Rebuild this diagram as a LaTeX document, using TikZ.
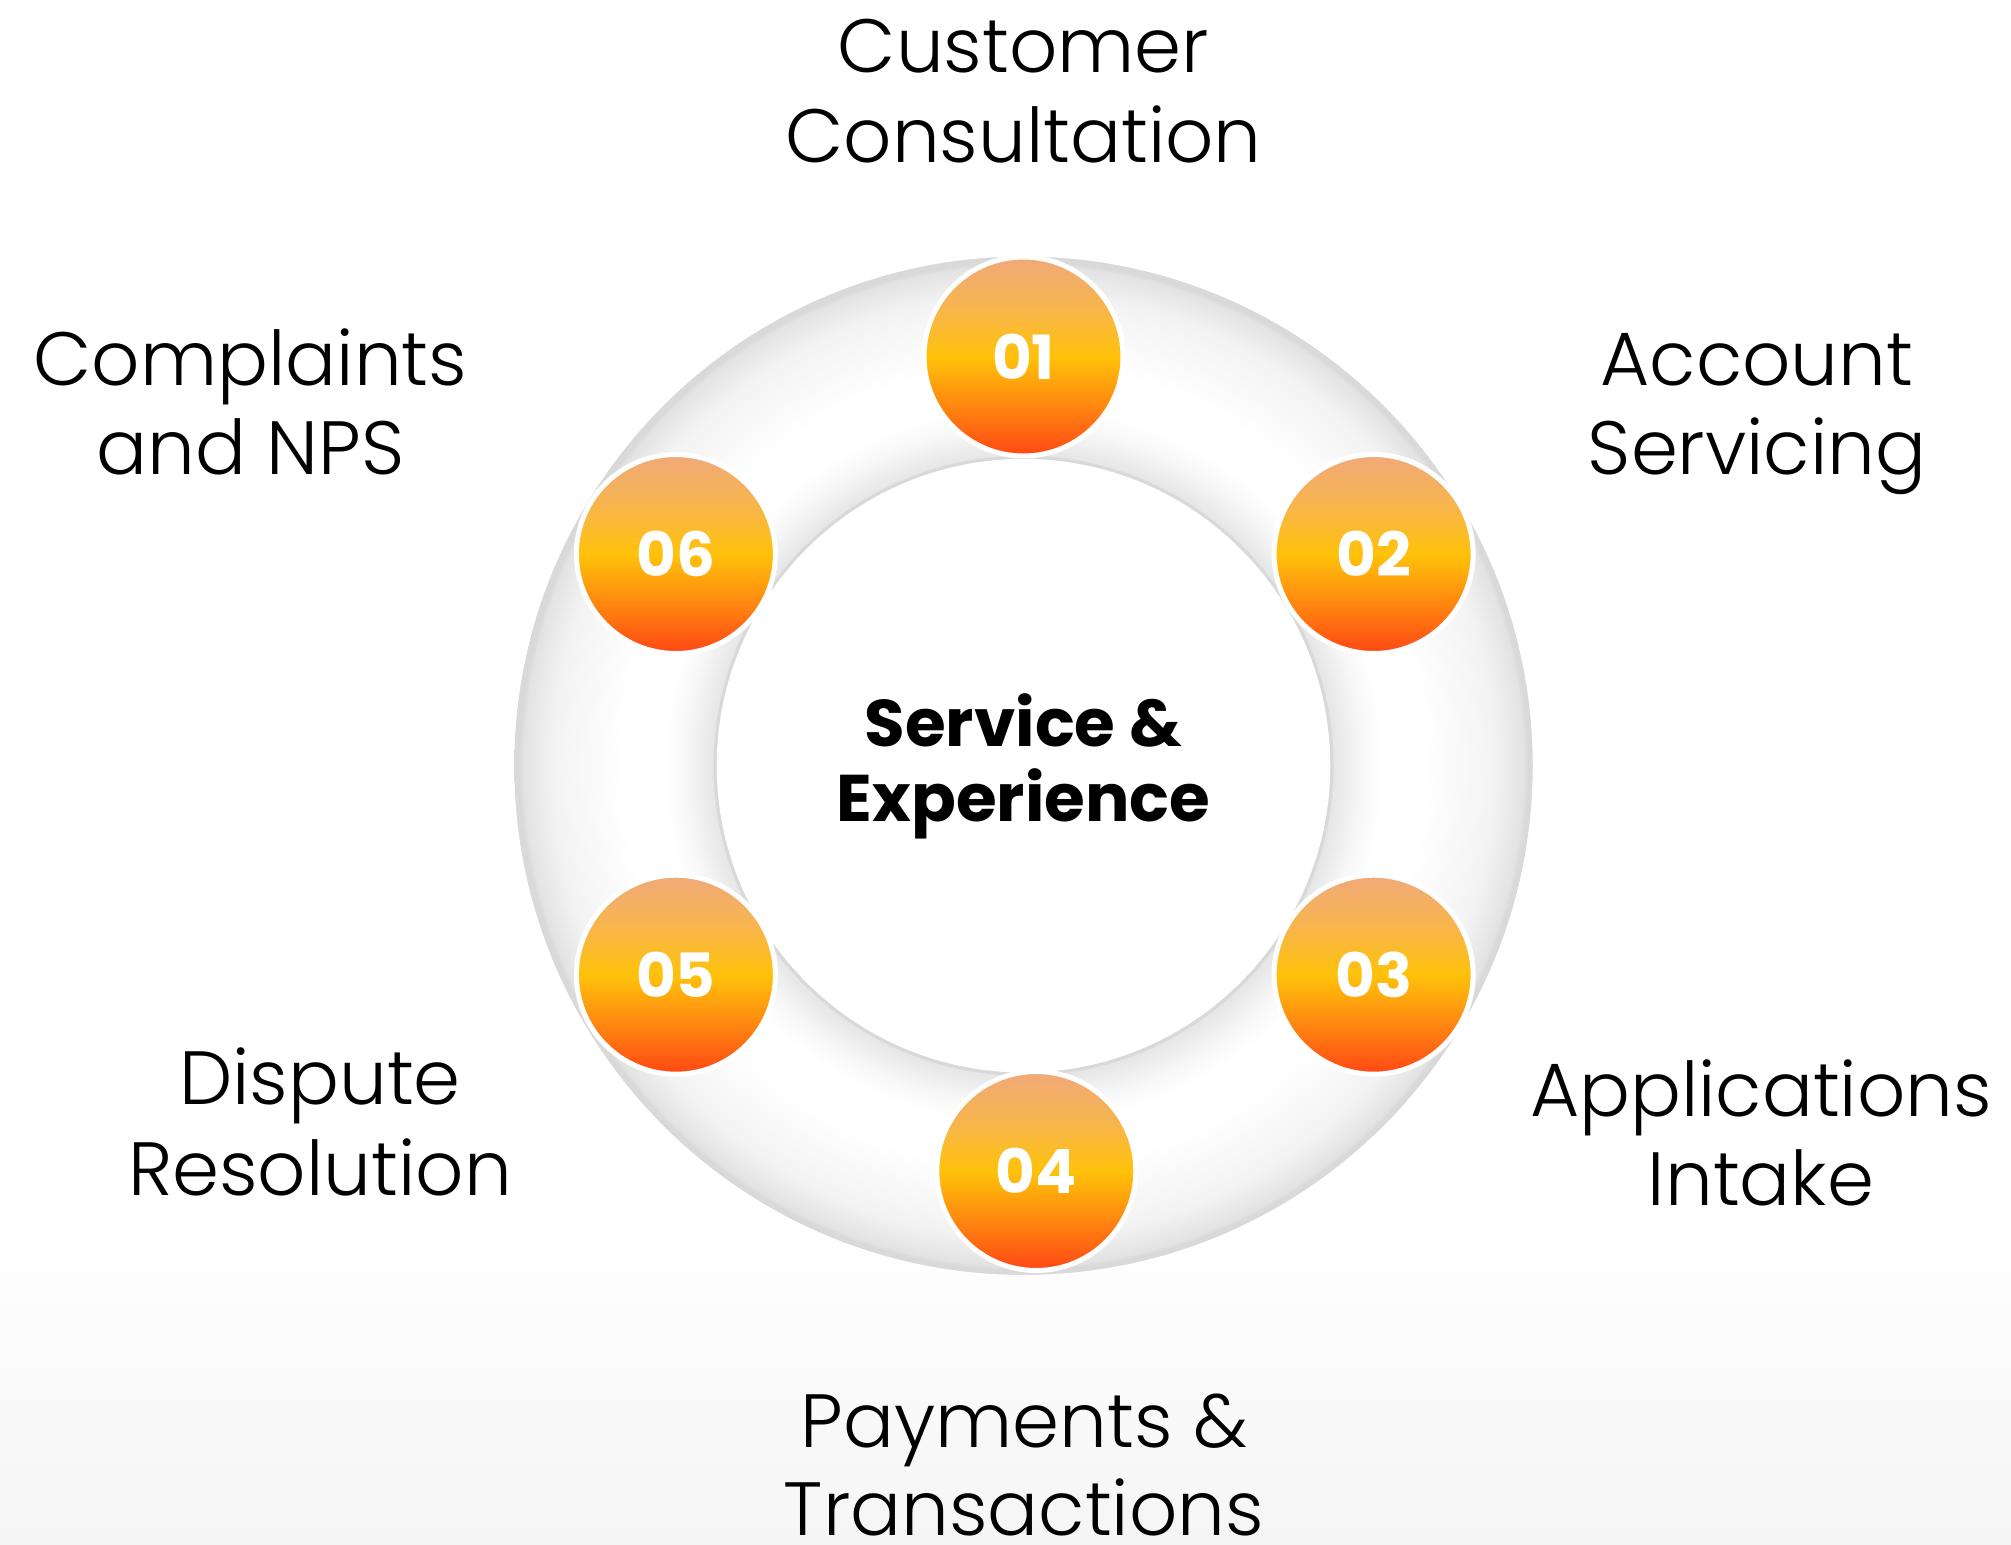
\documentclass[tikz,border=0pt]{standalone}
\usepackage{fontspec}
\setmainfont{Poppins}[UprightFont={* Light}, BoldFont={* Bold}]

% palette
\definecolor{ringline}{HTML}{D9D9D9}
\definecolor{ringinner}{HTML}{E6E6E6}
\definecolor{ringsoft}{HTML}{F8F8F8}
\definecolor{ringmid}{HTML}{F3F3F3}
\definecolor{ringouter}{HTML}{E3E3E3}
\definecolor{bubblebot}{HTML}{FF4614}
\definecolor{bubblelow}{HTML}{FF8410}
\definecolor{bubblemid}{HTML}{FFC20A}
\definecolor{bubblehigh}{HTML}{F7B54C}
\definecolor{bubbletop}{HTML}{F0A97A}
\definecolor{bgbottom}{HTML}{F5F5F5}

% soft bands across the ring
\pgfdeclareradialshading{ringshade}{\pgfpointorigin}{%
  color(0bp)=(ringline); color(15.08bp)=(ringline); color(15.23bp)=(ringinner);
  color(16.7bp)=(ringsoft); color(17.7bp)=(white); color(19.65bp)=(white);
  color(23.1bp)=(ringmid); color(24.56bp)=(ringouter); color(24.76bp)=(ringline);
  color(50bp)=(ringline)}

% peach -> amber -> red-orange, top to bottom
\pgfdeclareverticalshading{bubbleshade}{100bp}{%
  color(0bp)=(bubblebot); color(25bp)=(bubblebot); color(37bp)=(bubblelow);
  color(50bp)=(bubblemid); color(62bp)=(bubblehigh); color(75bp)=(bubbletop);
  color(100bp)=(bubbletop)}

\begin{document}
\begin{tikzpicture}[x=1pt,y=-1pt,
  bubble/.style={circle, inner sep=0pt, outer sep=0pt, minimum size=199pt,
    shade, shading=bubbleshade, draw=white, line width=5pt, text=white,
    font=\fontsize{61}{70}\selectfont\bfseries},
  lbl/.style={anchor=base, inner sep=0pt, text=black,
    font=\fontsize{75.5}{90}\selectfont},
  hubtext/.style={anchor=base, inner sep=0pt, text=black,
    font=\fontsize{66}{80}\selectfont\bfseries}]

  % page and background fade
  \useasboundingbox (0,0) rectangle (2011,1545);
  \fill[white] (0,0) rectangle (2011,1545);
  \shade[top color=white, bottom color=bgbottom] (0,1225) rectangle (2011,1545);

  % ring
  \coordinate (hub) at (1023.5,765.7);
  \shade[shading=ringshade, even odd rule]
    (hub) circle[radius=509pt] (hub) circle[radius=307pt];
  \draw[ringline, line width=3pt] (hub) circle[radius=507.5pt];
  \draw[ringline, line width=3pt] (hub) circle[radius=308.5pt];

  % centre title
  \node[hubtext] (title1) at (1023.5,746.5) {Service \&};
  \node[hubtext] (title2) at (1023.5,821) {Experience};

  % numbered bubbles
  \node[bubble] (s1) at (1023.5,356.5) {01};
  \node[bubble] (s2) at (1373.6,554) {02};
  \node[bubble] (s3) at (1373.6,974.7) {03};
  \node[bubble] (s4) at (1036.3,1171) {04};
  \node[bubble] (s5) at (675.9,974.7) {05};
  \node[bubble] (s6) at (675.9,554) {06};

  % step labels
  \node[lbl] (l1a) at (1023.5,72) {Customer};
  \node[lbl] (l1b) at (1023.5,162) {Consultation};
  \node[lbl] (l2a) at (1757,385) {Account};
  \node[lbl] (l2b) at (1757,474.5) {Servicing};
  \node[lbl] (l3a) at (1761,1116) {Applications};
  \node[lbl] (l3b) at (1761,1205.5) {Intake};
  \node[lbl] (l4a) at (1024,1447) {Payments \&};
  \node[lbl] (l4b) at (1024,1535) {Transactions};
  \node[lbl] (l5a) at (320,1104) {Dispute};
  \node[lbl] (l5b) at (320,1195) {Resolution};
  \node[lbl] (l6a) at (250.5,385) {Complaints};
  \node[lbl] (l6b) at (250.5,474.5) {and NPS};
\end{tikzpicture}
\end{document}
